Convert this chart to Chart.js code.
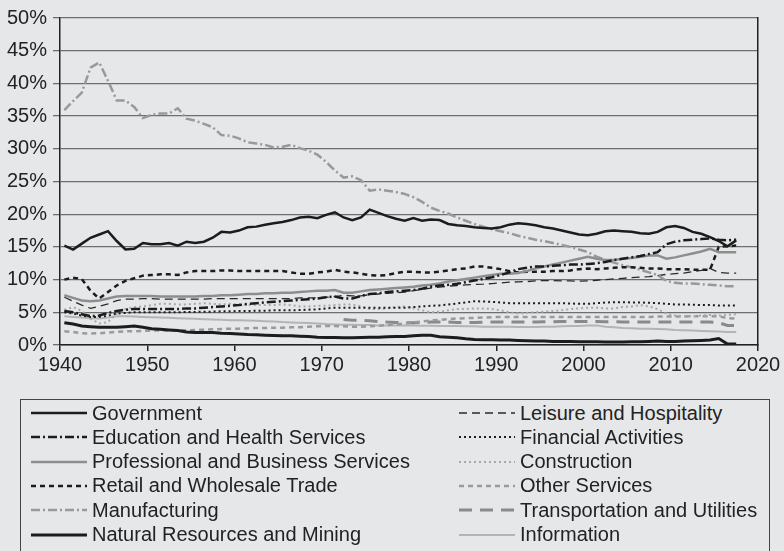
<!DOCTYPE html>
<html>
<head>
<meta charset="utf-8">
<script src="https://cdn.jsdelivr.net/npm/chart.js@4.4.1/dist/chart.umd.min.js"></script>
<style>
  html, body { margin: 0; padding: 0; background: #e6e7e8; }
  #quadro { position: relative; width: 784px; height: 551px; overflow: hidden; font-family: "Liberation Sans", Arial, sans-serif; }
  #grafico { position: absolute; left: 0; top: 0; }
  #legenda { position: absolute; left: 20px; top: 399px; width: 750px; height: 170px; border: 1px solid #444; box-sizing: border-box; }
  .item { position: absolute; height: 24px; display: flex; align-items: center; font-size: 20px; color: #222; white-space: nowrap; }
  .item canvas { margin-right: 5px; }
</style>
</head>
<body>
<div id="quadro">
  <canvas id="grafico" width="784" height="385"></canvas>
  <div id="legenda"></div>
</div>
<script>
// anos 1940-2017, valores em % do emprego total
const anos = [];
for (let a = 1940; a <= 2017; a++) anos.push(a);

const governo = [
  15.2, 14.6, 15.5, 16.4, 16.9, 17.4, 15.9, 14.6, 14.7, 15.6,
  15.4, 15.4, 15.6, 15.2, 15.8, 15.6, 15.8, 16.4, 17.3, 17.2,
  17.5, 18.0, 18.1, 18.4, 18.6, 18.8, 19.1, 19.5, 19.6, 19.4,
  19.9, 20.3, 19.5, 19.1, 19.5, 20.7, 20.2, 19.7, 19.3, 19.0,
  19.4, 19.0, 19.2, 19.1, 18.5, 18.3, 18.2, 18.0, 17.9, 17.8,
  18.0, 18.4, 18.6, 18.5, 18.3, 18.0, 17.8, 17.5, 17.2, 16.9,
  16.8, 17.0, 17.4, 17.5, 17.4, 17.3, 17.1, 17.0, 17.3, 18.0,
  18.2, 17.9, 17.3, 17.0, 16.5, 15.9, 15.1, 16.0
];
const educacao = [
  5.2, 5.0, 4.7, 4.4, 4.5, 4.9, 5.2, 5.4, 5.5, 5.5,
  5.5, 5.5, 5.5, 5.5, 5.6, 5.6, 5.7, 5.8, 5.9, 6.0,
  6.1, 6.3, 6.4, 6.5, 6.6, 6.7, 6.8, 6.9, 7.0, 7.1,
  7.3, 7.4, 7.1, 7.1, 7.5, 7.8, 7.9, 8.1, 8.2, 8.3,
  8.4, 8.6, 8.9, 9.1, 9.2, 9.35, 9.6, 9.85, 10.1, 10.35,
  10.7, 11.1, 11.6, 11.8, 12.0, 12.0, 12.1, 12.2, 12.3, 12.3,
  12.4, 12.5, 12.7, 13.0, 13.2, 13.4, 13.6, 13.9, 14.2, 15.4,
  15.8, 16.0, 16.1, 16.2, 16.3, 16.1, 16.0, 16.1
];
const profissionais = [
  7.6, 7.2, 6.8, 6.7, 6.8, 7.1, 7.4, 7.5, 7.5, 7.5,
  7.5, 7.4, 7.4, 7.4, 7.4, 7.4, 7.5, 7.5, 7.6, 7.6,
  7.7, 7.8, 7.8, 7.9, 7.9, 8.0, 8.0, 8.1, 8.2, 8.3,
  8.3, 8.4, 8.0, 8.0, 8.2, 8.4, 8.5, 8.6, 8.7, 8.8,
  8.9, 9.1, 9.2, 9.4, 9.7, 9.9, 10.1, 10.3, 10.5, 10.7,
  10.9, 10.9, 11.0, 11.3, 11.7, 12.0, 12.3, 12.6, 12.9, 13.2,
  13.5, 13.2, 13.0, 13.0, 13.2, 13.3, 13.5, 13.7, 13.7, 13.2,
  13.4, 13.7, 14.0, 14.3, 14.7, 14.2, 14.2, 14.2
];
const comercio = [
  10.0, 10.3, 10.1, 8.3, 7.1, 8.1, 9.1, 9.8, 10.2, 10.6,
  10.7, 10.8, 10.8, 10.7, 11.1, 11.3, 11.3, 11.3, 11.4, 11.4,
  11.3, 11.3, 11.3, 11.3, 11.3, 11.3, 11.1, 10.9, 10.9, 11.1,
  11.2, 11.5, 11.2, 11.1, 10.9, 10.7, 10.6, 10.7, 11.0, 11.2,
  11.2, 11.1, 11.1, 11.2, 11.4, 11.6, 11.7, 12.0, 12.0, 11.8,
  11.6, 11.3, 11.1, 11.2, 11.2, 11.2, 11.3, 11.3, 11.4, 11.6,
  11.7, 11.6, 11.7, 11.8, 11.9, 11.9, 11.8, 11.7, 11.7, 11.6,
  11.6, 11.6, 11.5, 11.5, 11.5, 15.0, 15.1, 15.2
];
const industria = [
  35.9, 37.3, 38.6, 42.4, 43.2, 40.4, 37.4, 37.4, 36.4, 34.7,
  35.2, 35.4, 35.4, 36.2, 34.6, 34.3, 33.8, 33.3, 32.1, 32.0,
  31.6, 31.0, 30.8, 30.6, 30.2, 30.3, 30.6, 30.1, 29.7, 29.1,
  28.0, 26.7, 25.6, 25.8, 25.2, 23.6, 23.8, 23.6, 23.4, 23.1,
  22.6, 21.9, 21.0, 20.5, 20.1, 19.5, 19.0, 18.5, 18.1, 17.7,
  17.4, 17.1, 16.7, 16.4, 16.1, 15.9, 15.6, 15.3, 15.0, 14.6,
  14.2, 13.5, 13.0, 12.6, 12.2, 11.9, 11.5, 11.1, 10.7, 9.8,
  9.5, 9.4, 9.4, 9.3, 9.2, 9.1, 9.0, 9.0
];
const recursosNaturais = [
  3.4, 3.2, 2.9, 2.8, 2.7, 2.7, 2.7, 2.8, 2.9, 2.7,
  2.5, 2.4, 2.3, 2.2, 2.0, 1.9, 1.9, 1.9, 1.8, 1.75,
  1.7, 1.6, 1.55, 1.5, 1.45, 1.4, 1.4, 1.35, 1.3, 1.2,
  1.15, 1.15, 1.1, 1.1, 1.15, 1.2, 1.2, 1.25, 1.3, 1.3,
  1.4, 1.5, 1.5, 1.25, 1.2, 1.1, 0.95, 0.85, 0.8, 0.8,
  0.75, 0.75, 0.7, 0.65, 0.6, 0.6, 0.55, 0.55, 0.55, 0.5,
  0.5, 0.5, 0.45, 0.45, 0.45, 0.5, 0.5, 0.55, 0.6, 0.55,
  0.55, 0.6, 0.65, 0.7, 0.75, 1.0, 0.15, 0.15
];
const lazer = [
  7.3, 6.7, 6.1, 5.6, 5.9, 6.3, 6.8, 7.0, 7.0, 7.1,
  7.1, 7.0, 7.0, 7.0, 7.0, 7.0, 7.0, 7.1, 7.1, 7.1,
  7.1, 7.1, 7.1, 7.1, 7.1, 7.1, 7.1, 7.2, 7.2, 7.2,
  7.3, 7.4, 7.6, 7.5, 7.5, 7.7, 7.8, 7.9, 8.0, 8.1,
  8.3, 8.5, 8.7, 8.85, 9.0, 9.1, 9.2, 9.25, 9.3, 9.4,
  9.5, 9.6, 9.65, 9.7, 9.8, 9.85, 9.85, 9.8, 9.8, 9.75,
  9.8, 9.9, 10.0, 10.1, 10.2, 10.3, 10.4, 10.45, 10.6, 10.8,
  10.9, 11.0, 11.2, 11.4, 11.7, 11.1, 11.0, 11.0
];
const financeiro = [
  5.0, 4.8, 4.5, 4.3, 4.3, 4.5, 4.8, 4.9, 5.0, 5.0,
  5.0, 5.0, 5.0, 5.0, 5.05, 5.05, 5.1, 5.1, 5.15, 5.15,
  5.2, 5.2, 5.25, 5.25, 5.3, 5.3, 5.3, 5.35, 5.4, 5.45,
  5.6, 5.7, 5.7, 5.7, 5.7, 5.7, 5.7, 5.7, 5.7, 5.7,
  5.8, 5.9, 6.0, 6.05, 6.2, 6.35, 6.5, 6.7, 6.65, 6.6,
  6.5, 6.4, 6.4, 6.4, 6.4, 6.4, 6.4, 6.4, 6.35, 6.3,
  6.3, 6.4, 6.5, 6.55, 6.55, 6.5, 6.5, 6.45, 6.4, 6.3,
  6.2, 6.2, 6.15, 6.1, 6.1, 6.05, 6.05, 6.05
];
const construcao = [
  5.4, 5.8, 5.2, 4.0, 3.3, 3.5, 4.8, 5.5, 5.8, 5.9,
  6.1, 6.3, 6.3, 6.2, 6.2, 6.3, 6.4, 6.3, 6.2, 6.3,
  6.2, 6.1, 6.1, 6.1, 6.1, 6.2, 6.1, 5.9, 5.9, 6.0,
  6.0, 6.1, 6.2, 6.2, 5.9, 5.5, 5.5, 5.6, 5.8, 5.9,
  5.6, 5.3, 5.0, 5.1, 5.3, 5.5, 5.5, 5.6, 5.6, 5.5,
  5.3, 5.0, 4.8, 4.9, 5.0, 5.1, 5.2, 5.3, 5.5, 5.6,
  5.7, 5.7, 5.6, 5.6, 5.8, 5.9, 6.1, 5.9, 5.5, 4.8,
  4.5, 4.4, 4.4, 4.5, 4.6, 4.5, 4.6, 4.7
];
const outrosServicos = [
  2.1, 2.0, 1.8, 1.75, 1.8, 1.9, 2.0, 2.1, 2.1, 2.15,
  2.2, 2.2, 2.2, 2.25, 2.25, 2.3, 2.35, 2.4, 2.45, 2.5,
  2.5, 2.55, 2.6, 2.6, 2.65, 2.65, 2.7, 2.7, 2.8, 2.85,
  2.9, 2.9, 2.85, 2.8, 2.8, 2.85, 2.95, 3.05, 3.15, 3.3,
  3.45, 3.6, 3.75, 3.85, 3.95, 4.05, 4.1, 4.15, 4.2, 4.25,
  4.3, 4.3, 4.3, 4.3, 4.3, 4.3, 4.3, 4.3, 4.3, 4.3,
  4.3, 4.3, 4.3, 4.3, 4.3, 4.3, 4.3, 4.3, 4.35, 4.35,
  4.35, 4.35, 4.4, 4.4, 4.4, 4.4, 4.1, 4.05
];
// série começa em 1972
const transporte = [
  null, null, null, null, null, null, null, null, null, null,
  null, null, null, null, null, null, null, null, null, null,
  null, null, null, null, null, null, null, null, null, null,
  null, null, 3.9, 3.8, 3.8, 3.7, 3.6, 3.5, 3.45, 3.4,
  3.4, 3.45, 3.5, 3.5, 3.5, 3.45, 3.45, 3.45, 3.5, 3.5,
  3.5, 3.5, 3.5, 3.5, 3.5, 3.55, 3.55, 3.6, 3.6, 3.6,
  3.6, 3.6, 3.55, 3.55, 3.5, 3.5, 3.5, 3.5, 3.5, 3.5,
  3.5, 3.5, 3.5, 3.5, 3.5, 3.4, 3.0, 3.0
];
const informacao = [
  4.4, 4.3, 4.2, 4.1, 4.05, 4.2, 4.4, 4.4, 4.35, 4.3,
  4.25, 4.2, 4.15, 4.1, 4.05, 4.0, 3.95, 3.9, 3.85, 3.8,
  3.8, 3.75, 3.7, 3.65, 3.6, 3.5, 3.45, 3.4, 3.35, 3.3,
  3.2, 3.15, 3.1, 3.1, 3.05, 3.05, 3.0, 3.0, 3.0, 3.0,
  3.0, 2.95, 2.95, 2.9, 2.9, 2.9, 2.85, 2.85, 2.8, 2.8,
  2.8, 2.8, 2.75, 2.75, 2.75, 2.8, 2.8, 2.85, 2.9, 2.9,
  3.0, 3.0, 2.8, 2.7, 2.6, 2.55, 2.5, 2.5, 2.45, 2.4,
  2.3, 2.25, 2.2, 2.15, 2.1, 2.05, 2.0, 2.0
];

const fonte = '"Liberation Sans", Arial, sans-serif';

// nome, valores, cor, largura, traço, coluna da legenda, linha da legenda
const series = [
  { nome: 'Government', valores: governo, cor: '#1c1c1c', largura: 2.5, traco: [], col: 0, lin: 0 },
  { nome: 'Education and Health Services', valores: educacao, cor: '#1c1c1c', largura: 2.5, traco: [9, 3, 2, 3], col: 0, lin: 1 },
  { nome: 'Professional and Business Services', valores: profissionais, cor: '#8e8e8e', largura: 2.5, traco: [], col: 0, lin: 2 },
  { nome: 'Retail and Wholesale Trade', valores: comercio, cor: '#1c1c1c', largura: 2.5, traco: [5, 4], col: 0, lin: 3 },
  { nome: 'Manufacturing', valores: industria, cor: '#999999', largura: 2.5, traco: [9, 3, 2, 3], col: 0, lin: 4 },
  { nome: 'Natural Resources and Mining', valores: recursosNaturais, cor: '#1c1c1c', largura: 3, traco: [], col: 0, lin: 5 },
  { nome: 'Leisure and Hospitality', valores: lazer, cor: '#2a2a2a', largura: 1.3, traco: [8, 5], col: 1, lin: 0 },
  { nome: 'Financial Activities', valores: financeiro, cor: '#1c1c1c', largura: 2, traco: [2, 3], col: 1, lin: 1 },
  { nome: 'Construction', valores: construcao, cor: '#a8a8a8', largura: 2, traco: [2, 3], col: 1, lin: 2 },
  { nome: 'Other Services', valores: outrosServicos, cor: '#9a9a9a', largura: 2.5, traco: [5, 4], col: 1, lin: 3 },
  { nome: 'Transportation and Utilities', valores: transporte, cor: '#8a8a8a', largura: 3, traco: [13, 8], col: 1, lin: 4 },
  { nome: 'Information', valores: informacao, cor: '#b4b4b4', largura: 2, traco: [], col: 1, lin: 5 }
];

function montarGrafico() {
  try {
    new Chart(document.getElementById('grafico').getContext('2d'), {
      type: 'line',
      data: {
        datasets: series.map(s => ({
          label: s.nome,
          // ponto no meio do ano
          data: anos.map((a, i) => ({ x: a + 0.5, y: s.valores[i] })),
          borderColor: s.cor,
          borderWidth: s.largura,
          borderDash: s.traco,
          pointRadius: 0,
          fill: false,
          tension: 0,
          spanGaps: false
        }))
      },
      options: {
        responsive: false,
        animation: false,
        layout: { padding: { top: 15, right: 26, left: 0, bottom: 0 } },
        plugins: { legend: { display: false }, tooltip: { enabled: false } },
        scales: {
          x: {
            type: 'linear', min: 1940, max: 2020,
            ticks: { stepSize: 10, color: '#222', padding: 2, maxRotation: 0, font: { size: 20, family: fonte }, callback: v => String(v) },
            grid: { drawOnChartArea: false, drawTicks: true, tickLength: 6, color: '#222', lineWidth: 1.5 },
            border: { display: true, color: '#222', width: 1.5 },
            afterFit: s => { s.height = 40; }
          },
          y: {
            min: 0, max: 50,
            ticks: { stepSize: 5, color: '#222', padding: 6, font: { size: 20, family: fonte }, callback: v => v + '%' },
            grid: { color: '#6e6e6e', lineWidth: 1.3, tickLength: 7 },
            border: { display: true, color: '#222', width: 1.5 },
            afterFit: s => { s.width = 60; }
          },
          y2: {
            position: 'right', min: 0, max: 50,
            ticks: { display: false },
            grid: { display: false },
            border: { display: true, color: '#222', width: 1.5 },
            afterFit: s => { s.width = 0; }
          }
        }
      }
    });
  } catch (error) {
    console.error('Erro ao montar o gráfico:', error);
  }
}

function montarLegenda() {
  const caixa = document.getElementById('legenda');
  const colunaX = [10, 438];
  series.forEach(s => {
    const item = document.createElement('div');
    item.className = 'item';
    item.style.left = colunaX[s.col] + 'px';
    item.style.top = (1 + s.lin * 24.3) + 'px';
    const amostra = document.createElement('canvas');
    amostra.width = 56; amostra.height = 10;
    const c = amostra.getContext('2d');
    c.strokeStyle = s.cor;
    c.lineWidth = s.largura;
    c.setLineDash(s.traco);
    c.beginPath(); c.moveTo(0, 5); c.lineTo(56, 5); c.stroke();
    item.appendChild(amostra);
    const texto = document.createElement('span');
    texto.textContent = s.nome;
    item.appendChild(texto);
    caixa.appendChild(item);
  });
}

montarGrafico();
montarLegenda();
</script>
</body>
</html>
